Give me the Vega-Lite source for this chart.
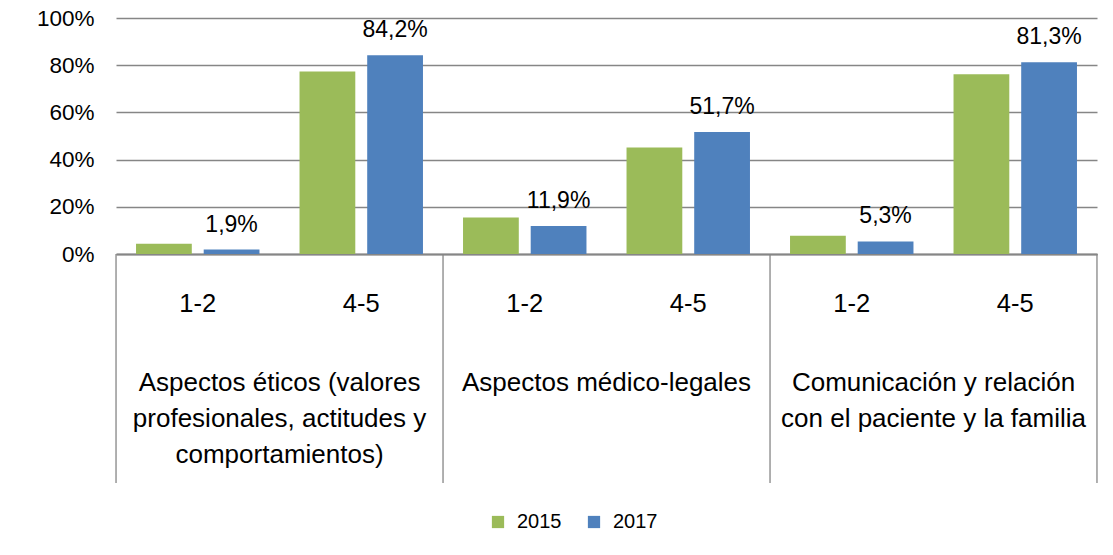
{
  "$schema": "https://vega.github.io/schema/vega-lite/v6.json",
  "width": 981,
  "height": 236,
  "autosize": "none",
  "padding": {"left": 116, "top": 18, "right": 16, "bottom": 301},
  "background": "white",
  "config": {
    "view": {"stroke": null},
    "font": "Liberation Sans",
    "locale": {"number": {"decimal": ",", "thousands": ".", "grouping": [3], "currency": ["", " €"]}}
  },
  "datasets": {
    "bars": [
      {"cat": "Aspectos éticos|1-2", "year": "2015", "value": 0.043},
      {"cat": "Aspectos éticos|1-2", "year": "2017", "value": 0.019},
      {"cat": "Aspectos éticos|4-5", "year": "2015", "value": 0.773},
      {"cat": "Aspectos éticos|4-5", "year": "2017", "value": 0.842},
      {"cat": "Aspectos médico-legales|1-2", "year": "2015", "value": 0.155},
      {"cat": "Aspectos médico-legales|1-2", "year": "2017", "value": 0.119},
      {"cat": "Aspectos médico-legales|4-5", "year": "2015", "value": 0.451},
      {"cat": "Aspectos médico-legales|4-5", "year": "2017", "value": 0.517},
      {"cat": "Comunicación|1-2", "year": "2015", "value": 0.077},
      {"cat": "Comunicación|1-2", "year": "2017", "value": 0.053},
      {"cat": "Comunicación|4-5", "year": "2015", "value": 0.762},
      {"cat": "Comunicación|4-5", "year": "2017", "value": 0.813}
    ],
    "groups": [
      {"cat": "Aspectos éticos|4-5", "label": "Aspectos éticos (valores\nprofesionales, actitudes y\ncomportamientos)"},
      {"cat": "Aspectos médico-legales|4-5", "label": "Aspectos médico-legales"},
      {"cat": "Comunicación|4-5", "label": "Comunicación y relación\ncon el paciente y la familia"}
    ],
    "starts": [
      {"cat": "Aspectos éticos|1-2"},
      {"cat": "Aspectos médico-legales|1-2"},
      {"cat": "Comunicación|1-2"}
    ],
    "ends": [
      {"cat": "Comunicación|4-5"}
    ]
  },
  "layer": [
    {
      "data": {"name": "bars"},
      "mark": {"type": "bar"},
      "encoding": {
        "x": {
          "field": "cat", "type": "nominal",
          "scale": {
            "domain": ["Aspectos éticos|1-2", "Aspectos éticos|4-5", "Aspectos médico-legales|1-2", "Aspectos médico-legales|4-5", "Comunicación|1-2", "Comunicación|4-5"],
            "paddingInner": 0.245, "paddingOuter": 0.1225
          },
          "axis": {
            "title": null,
            "labelExpr": "split(datum.label, '|')[1]",
            "labelAngle": 0,
            "domainColor": "#868686",
            "domainWidth": 2,
            "ticks": false,
            "tickSize": 0,
            "labelPadding": 37,
            "labelFontSize": 25.5,
            "labelColor": "#000000",
            "grid": false
          }
        },
        "xOffset": {"field": "year", "type": "nominal", "scale": {"domain": ["2015", "2017"], "paddingInner": 0.176, "paddingOuter": 0}},
        "y": {
          "field": "value", "type": "quantitative",
          "scale": {"domain": [0, 1], "nice": false},
          "axis": {
            "title": null,
            "format": ".0%",
            "values": [0, 0.2, 0.4, 0.6, 0.8, 1],
            "domain": false,
            "ticks": false,
            "labelPadding": 22,
            "labelFontSize": 22.5,
            "labelColor": "#000000",
            "gridColor": "#868686",
            "gridWidth": 1.3
          }
        },
        "color": {
          "field": "year", "type": "nominal",
          "scale": {"domain": ["2015", "2017"], "range": ["#9BBB59", "#4F81BD"]},
          "legend": {
            "title": null,
            "orient": "none",
            "legendX": 372,
            "legendY": 494,
            "direction": "horizontal",
            "symbolType": "square",
            "symbolSize": 150,
            "symbolStrokeWidth": 0,
            "labelFontSize": 20,
            "labelColor": "#000000",
            "labelOffset": 9,
            "columnPadding": 22
          }
        }
      }
    },
    {
      "data": {"name": "bars"},
      "transform": [{"filter": "datum.year == '2017'"}],
      "mark": {"type": "text", "baseline": "alphabetic", "dy": -18, "fontSize": 23, "color": "#000000"},
      "encoding": {
        "x": {"field": "cat", "type": "nominal"},
        "xOffset": {"field": "year", "type": "nominal"},
        "y": {"field": "value", "type": "quantitative"},
        "text": {"field": "value", "type": "quantitative", "format": ".1%"}
      }
    },
    {
      "data": {"name": "groups"},
      "mark": {"type": "text", "baseline": "top", "align": "center", "lineBreak": "\n", "lineHeight": 36, "fontSize": 26, "color": "#000000", "xOffset": -20},
      "encoding": {
        "x": {"field": "cat", "type": "nominal", "bandPosition": 0},
        "y": {"datum": -0.49},
        "text": {"field": "label", "type": "nominal"}
      }
    },
    {
      "data": {"name": "starts"},
      "mark": {"type": "rule", "color": "#868686", "strokeWidth": 1.3, "xOffset": -20},
      "encoding": {
        "x": {"field": "cat", "type": "nominal", "bandPosition": 0},
        "y": {"datum": 0},
        "y2": {"datum": -0.97}
      }
    },
    {
      "data": {"name": "ends"},
      "mark": {"type": "rule", "color": "#868686", "strokeWidth": 1.3, "xOffset": 20},
      "encoding": {
        "x": {"field": "cat", "type": "nominal", "bandPosition": 1},
        "y": {"datum": 0},
        "y2": {"datum": -0.97}
      }
    }
  ]
}
